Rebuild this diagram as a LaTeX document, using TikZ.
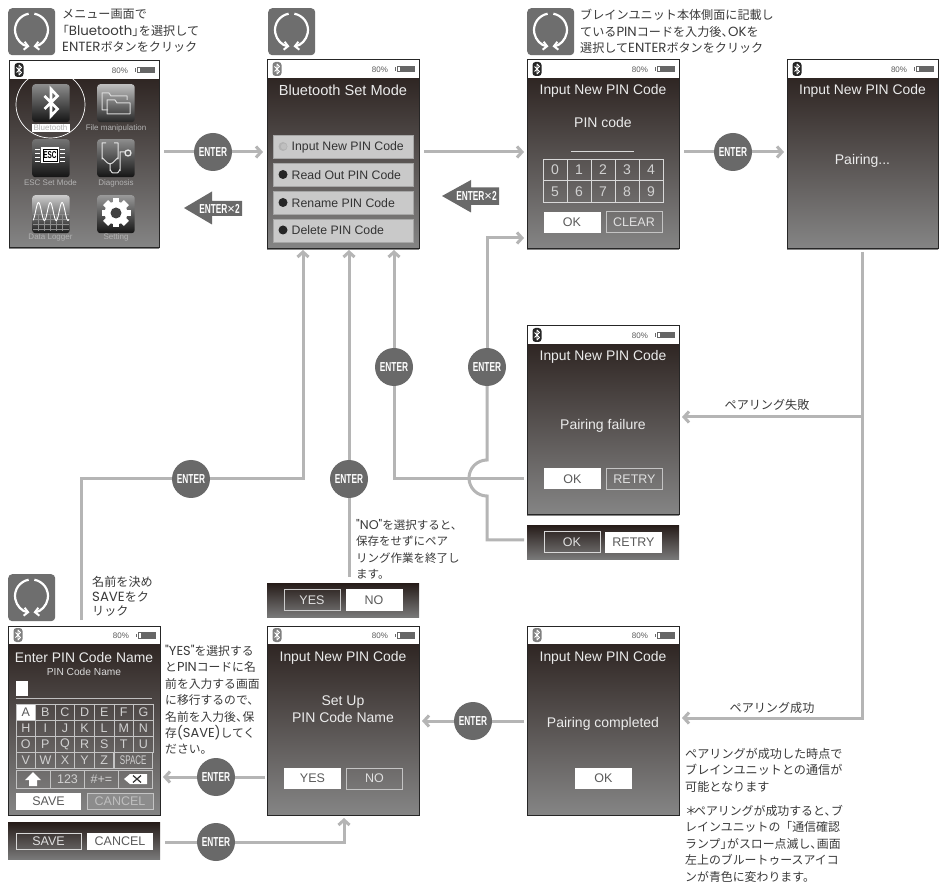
\documentclass[tikz,border=0pt]{standalone}
\usepackage{fontspec}
\setmainfont{Liberation Sans}
\newfontfamily\jpfont{Noto Sans CJK JP}
\newfontfamily\notelatin{Poppins}[Scale=1.1]
\newfontfamily\enterfont{Liberation Sans}[FakeStretch=0.64]
\newcommand{\Lp}[1]{{\notelatin #1}}
\newcommand{\ten}{、\kern-.45em}
\usetikzlibrary{arrows.meta}
\definecolor{scrtop}{HTML}{261C19}
\definecolor{scrbot}{HTML}{858585}
\definecolor{linegray}{HTML}{B5B5B5}
\definecolor{badge}{HTML}{696969}
\definecolor{notetext}{HTML}{3A3A3A}
\definecolor{btntext}{HTML}{5A5A5A}
\definecolor{lightline}{HTML}{C4C4C4}
\tikzset{
  x=1pt,y=-1pt,
  line/.style={draw=linegray,line width=3pt},
  conn/.style={line,-{Straight Barb[length=5pt,width=11pt,line width=3pt]}},
  enterc/.style={circle,fill=badge,minimum size=38pt,inner sep=0pt,text=white,font=\enterfont\bfseries\fontsize{13}{13}\selectfont},
  arrowtxt/.style={inner sep=0pt,text=white,font=\enterfont\bfseries\fontsize{13}{13}\selectfont},
  screenbox/.style={anchor=north west,inner sep=0pt,top color=scrtop,bottom color=scrbot},
  stripbox/.style={anchor=north west,inner sep=0pt,top color=scrtop,bottom color=scrbot!110!white},
  titletxt/.style={inner sep=0pt,text=white!92!black,font=\fontsize{13.9}{16}\selectfont},
  bodytxt/.style={inner sep=0pt,text=white!92!black,font=\fontsize{14}{16.5}\selectfont,align=center},
  btnw/.style={fill=white,inner sep=0pt,minimum width=57pt,minimum height=21pt,text=btntext,font=\fontsize{12.5}{14}\selectfont},
  btno/.style={draw=lightline,line width=1pt,inner sep=0pt,minimum width=56pt,minimum height=21pt,text=white!88!black,font=\fontsize{12.5}{14}\selectfont},
  menubtn/.style={anchor=north west,fill=black!21,draw=black!35,line width=.6pt,inner sep=0pt,minimum width=140pt,minimum height=23pt},
  menutxt/.style={anchor=west,inner sep=0pt,text=black!80,font=\fontsize{12.3}{14}\selectfont},
  tile/.style={anchor=north west,rounded corners=3pt,inner sep=0pt,minimum width=37.5pt,minimum height=38pt},
  tilelab/.style={inner sep=0pt,text=white!70!black,font=\fontsize{8}{9}\selectfont},
  notejp/.style={anchor=north west,inner sep=0pt,align=left,text=notetext,font=\jpfont\fontsize{12.1}{16.5}\selectfont},
  keycell/.style={draw=lightline,line width=.8pt,inner sep=0pt,minimum width=19.6pt,minimum height=16pt,text=white!82!black,font=\fontsize{12.5}{13}\selectfont},
  numcell/.style={draw=white!85!black,line width=.8pt,inner sep=0pt,minimum width=24pt,minimum height=21.5pt,text=white!82!black,font=\fontsize{14}{15}\selectfont},
}
% round-arrow icon: name, left, top
\newcommand{\CycleIcon}[3]{%
  \node[anchor=north west,fill=black!57,rounded corners=4pt,inner sep=0pt,minimum size=47pt] (#1) at (#2,#3) {};
  \begin{scope}[shift={(#2+23.5,#3+22)}]
    \draw[white,line width=2.2pt,-{Straight Barb[length=4pt,width=8pt,line width=2pt]}] (260:16.5) arc (260:97:16.5);
    \draw[white,line width=2.2pt,-{Straight Barb[length=4pt,width=8pt,line width=2pt]}] (-80:16.5) arc (-80:83:16.5);
  \end{scope}}
% screen: name, left, top, width, height, colour of the status icon
\newcommand{\ScreenBox}[6]{%
  \node[screenbox,minimum width=#4pt,minimum height=#5pt] (#1) at (#2,#3) {};
  \begin{scope}[shift={(#2,#3)}]
    \fill[white] (0,0) rectangle (#4,18);
    \draw[black!85,line width=1pt] (0,0) rectangle (#4,#5);
    \fill[#6,rounded corners=3pt] (5.5,2) rectangle (14.5,16);
    \draw[white,line width=.8pt,line join=round] (7.5,6.5) -- (12.5,11.5) -- (10,14) -- (10,4) -- (12.5,6.5) -- (7.5,11.5);
    \node[inner sep=0pt,text=black!65,font=\fontsize{8}{9}\selectfont] (#1-pct) at (#4-39,9.5) {80\%};
    \fill[black!60] (#4-22,6) rectangle (#4-4,12.5);
    \fill[white] (#4-21,7) rectangle (#4-19,11.5);
    \fill[black!60] (#4-24,7.5) rectangle (#4-23,11);
  \end{scope}}
\begin{document}
\begin{tikzpicture}
\useasboundingbox (0,0) rectangle (946,882);
\fill[white] (0,0) rectangle (946,882);

% cycle icons
\CycleIcon{ic1}{8}{8}
\CycleIcon{ic2}{268}{8}
\CycleIcon{ic3}{527}{8}
\CycleIcon{ic4}{8}{574}

% screens
\ScreenBox{s1}{9}{61}{150}{187}{black!85}
\ScreenBox{s2}{267}{60}{152}{189}{black!50}
\ScreenBox{s3}{527}{60}{152}{189}{black!85}
\ScreenBox{s4}{787}{60}{151}{189}{black!85}
\ScreenBox{s5}{527}{326}{152}{189}{black!85}
\ScreenBox{s6}{267}{626}{152}{189}{black!50}
\ScreenBox{s7}{527}{626}{152}{189}{black!50}
\ScreenBox{s8}{8}{626}{152}{189}{black!50}

% strips
\node[stripbox,minimum width=152pt,minimum height=34pt] (st1) at (527,525) {};
\node[stripbox,minimum width=152pt,minimum height=34pt] (st2) at (267,583) {};
\node[stripbox,minimum width=152pt,minimum height=37pt] (st3) at (8,822) {};

% menu tiles
\node[tile,top color=black!45,bottom color=black!92] (t1) at (32,84) {};
\node[tile,top color=black!25,bottom color=black!85] (t2) at (97,84) {};
\node[tile,top color=black!55,bottom color=black!92] (t3) at (32,139) {};
\node[tile,top color=black!45,bottom color=black!92] (t4) at (97,139) {};
\node[tile,top color=black!20,bottom color=black!90] (t5) at (32,195) {};
\node[tile,top color=black!40,bottom color=black!92] (t6) at (97,195) {};
% bluetooth glyph
\draw[white,line width=2.6pt,line join=miter] (44.5,96) -- (57.5,109) -- (51,116) -- (51,89) -- (57.5,96) -- (44.5,109);
% folders
\draw[white!85!black,line width=1pt,line join=round] (108,110) -- (102,110) -- (102,93) -- (109,93) -- (111,96) -- (127,96) -- (127,100);
\draw[white!85!black,line width=1pt,line join=round] (107,114) -- (107,100) -- (115,100) -- (117,103) -- (130,103) -- (130,114) -- cycle;
% ESC chip
\fill[white] (41,147) rectangle (59,163);
\draw[black,line width=.8pt] (43,149) rectangle (57,161);
\node[inner sep=0pt,text=black,font=\enterfont\bfseries\fontsize{10}{10}\selectfont] (esclabel) at (50,155) {ESC};
\foreach \yy in {149,153,157,161}{
  \draw[white,line width=.8pt] (35,\yy) -- (40,\yy);
  \draw[white,line width=.8pt] (60,\yy) -- (65,\yy);
}
% stethoscope
\draw[white!90!black,line width=1pt,line join=round] (106,143) -- (102,143) -- (102,159) to[out=90,in=180] (110,164) to[out=0,in=90] (118,159) -- (118,143) -- (114,143);
\draw[white!90!black,line width=1pt] (110,164) -- (110,170) to[out=90,in=180] (113,173) -- (117,173) to[out=0,in=90] (120,170) -- (120,152) -- (125,152);
\draw[white!90!black,line width=1.3pt] (128,153) circle[radius=3];
% data logger waves
\foreach \yy in {214,219,224,229}{\draw[black!45,line width=.3pt] (33,\yy) -- (69,\yy);}
\foreach \xx in {38,44,50,56,62}{\draw[black!45,line width=.3pt] (\xx,214) -- (\xx,231);}
\draw[white,line width=.9pt,domain=33:69,samples=70] plot ({\x},{211.5-9*cos((\x-38.5)*30.5)});
% gear
\begin{scope}[shift={(116,213)}]
  \foreach \a in {0,45,...,315}{\fill[white,rotate=\a] (-3.4,-14.5) rectangle (3.4,14.5);}
  \fill[white] (0,0) circle[radius=11.5];
  \fill[black!75] (0,0) circle[radius=5.5];
\end{scope}
% tile captions
\node[inner sep=0pt,fill=white,minimum width=38pt,minimum height=8pt,text=black!30,font=\fontsize{8}{9}\selectfont] (lab1) at (50.5,128) {Bluetooth};
\node[tilelab] (lab2) at (116,128) {File manipulation};
\node[tilelab] (lab3) at (50.5,183) {ESC Set Mode};
\node[tilelab] (lab4) at (116,183) {Diagnosis};
\node[tilelab] (lab5) at (50.5,237.5) {Data Logger};
\node[tilelab] (lab6) at (116,237.5) {Setting};
\draw[white,line width=.7pt] (50.5,104.5) ellipse[x radius=34.5,y radius=33.5];

% screen 2
\node[titletxt,font=\fontsize{14.6}{16}\selectfont] (s2t) at (343,90.5) {Bluetooth Set Mode};
\node[menubtn] (b1) at (273,135) {};
\node[menubtn] (b2) at (273,163) {};
\node[menubtn] (b3) at (273,191) {};
\node[menubtn] (b4) at (273,219) {};
\fill[black!30] (283,146.5) circle[radius=4.5];
\fill[white!75!black] (283.8,146.5) circle[radius=3];
\fill[black!85] (283,174.5) circle[radius=4.5];
\fill[black!85] (283,202.5) circle[radius=4.5];
\fill[black!85] (283,230) circle[radius=4.5];
\node[menutxt] (b1t) at (291.5,147) {Input New PIN Code};
\node[menutxt] (b2t) at (291.5,175) {Read Out PIN Code};
\node[menutxt] (b3t) at (291.5,203) {Rename PIN Code};
\node[menutxt] (b4t) at (291.5,230.5) {Delete PIN Code};

% screen 3
\node[titletxt] (s3t) at (603,91) {Input New PIN Code};
\node[bodytxt] (s3p) at (603,122.5) {PIN code};
\draw[white!85!black,line width=.8pt] (571,151) -- (634,151);
\foreach \t [count=\i from 0] in {0,1,2,3,4}{\node[numcell] (n\i) at ({555+24*\i},170) {\t};}
\foreach \t [count=\i from 5] in {5,6,7,8,9}{\node[numcell] (n\i) at ({555+24*(\i-5)},191.5) {\t};}
\node[btnw] (s3ok) at (572,222.5) {OK};
\node[btno] (s3cl) at (634,222.5) {CLEAR};

% screen 4
\node[titletxt] (s4t) at (862.5,91) {Input New PIN Code};
\node[bodytxt] (s4p) at (862.5,161) {Pairing...};

% screen 5
\node[titletxt] (s5t) at (603,357) {Input New PIN Code};
\node[bodytxt] (s5p) at (603,425.5) {Pairing failure};
\node[btnw] (s5ok) at (572.5,479) {OK};
\node[btno] (s5re) at (634.5,479) {RETRY};
\node[btno,draw=black!15] (st1ok) at (572,542.5) {OK};
\node[btnw] (st1re) at (633.5,542.5) {RETRY};

% set-up screen
\node[titletxt] (s6t) at (343,657.5) {Input New PIN Code};
\node[bodytxt] (s6p) at (343,709) {Set Up\\PIN Code Name};
\node[btnw] (s6y) at (312.5,778.5) {YES};
\node[btno] (s6n) at (374.5,778.5) {NO};
\node[btno,draw=white!80!black] (st2y) at (312,600) {YES};
\node[btnw] (st2n) at (374,600) {NO};

% completed screen
\node[titletxt] (s7t) at (603,657.5) {Input New PIN Code};
\node[bodytxt] (s7p) at (603,724) {Pairing completed};
\node[btnw] (s7ok) at (603.5,778.5) {OK};

% enter name screen
\node[titletxt] (s8t) at (84,657.5) {Enter PIN Code Name};
\node[inner sep=0pt,text=white!85!black,font=\fontsize{10.2}{11}\selectfont] (s8s) at (84,672) {PIN Code Name};
\fill[white] (16,681) rectangle (28,696);
\draw[white!75!black,line width=1pt] (16,698) -- (152,698);
\foreach \t [count=\i from 0] in {A,B,C,D,E,F,G}{
  \node[keycell] (ka\i) at ({25.8+19.6*\i},712) {\t};}
\node[keycell,fill=white,text=btntext] (kaA) at (25.8,712) {A};
\foreach \t [count=\i from 0] in {H,I,J,K,L,M,N}{
  \node[keycell] (kb\i) at ({25.8+19.6*\i},728) {\t};}
\foreach \t [count=\i from 0] in {O,P,Q,R,S,T,U}{
  \node[keycell] (kc\i) at ({25.8+19.6*\i},744) {\t};}
\foreach \t [count=\i from 0] in {V,W,X,Y,Z}{
  \node[keycell] (kd\i) at ({25.8+19.6*\i},760) {\t};}
\node[keycell,minimum width=39.2pt,font=\enterfont\fontsize{12.5}{13}\selectfont] (kdsp) at (133.2,760) {SPACE};
\node[keycell,minimum width=34pt,minimum height=18pt] (ke0) at (33,779) {};
\node[keycell,minimum width=34pt,minimum height=18pt] (ke1) at (67.5,779) {123};
\node[keycell,minimum width=34pt,minimum height=18pt] (ke2) at (101.5,779) {\#+=};
\node[keycell,minimum width=34pt,minimum height=18pt] (ke3) at (135.5,779) {};
\fill[white] (33,772) -- (41,780) -- (37,780) -- (37,786) -- (29,786) -- (29,780) -- (25,780) -- cycle;
\fill[white] (124,779) -- (130,774) -- (147,774) -- (147,784) -- (130,784) -- cycle;
\draw[black!80,line width=1.2pt] (133,775.5) -- (141,782.5) (141,775.5) -- (133,782.5);
\node[btnw,minimum width=65pt,minimum height=17pt] (s8sv) at (48.5,801) {SAVE};
\node[btno,minimum width=66pt,minimum height=16pt,text=white!75!black,fill=white!55!black] (s8cn) at (120,801) {CANCEL};
\node[btno,minimum width=65pt,minimum height=16pt,draw=white!85!black] (st3sv) at (48.5,841) {SAVE};
\node[btnw,minimum width=66pt,minimum height=17pt] (st3cn) at (120,841) {CANCEL};

% badges
\node[enterc] (e1) at (213,152) {ENTER};
\node[enterc] (e2) at (733,152) {ENTER};
\node[enterc] (e3) at (394,367) {ENTER};
\node[enterc] (e4) at (487,367) {ENTER};
\node[enterc] (e5) at (191,479) {ENTER};
\node[enterc] (e6) at (349,479) {ENTER};
\node[enterc] (e7) at (473,721) {ENTER};
\node[enterc] (e8) at (216,777) {ENTER};
\node[enterc] (e9) at (216,842) {ENTER};

% free ends of the connectors
\coordinate (a1) at (164,152); \coordinate (a2) at (263,152);
\coordinate (b1s) at (424,152); \coordinate (b1e) at (524,152);
\coordinate (c1) at (684,152); \coordinate (c2) at (784,152);
\coordinate (d1) at (862,252); \coordinate (d2) at (862,417); \coordinate (d3) at (682,417);
\coordinate (d4) at (862,718); \coordinate (d5) at (682,718);
\coordinate (f1) at (524,479); \coordinate (f2) at (394,479); \coordinate (f3) at (394,250);
\coordinate (g1) at (524,540); \coordinate (g2) at (487,540); \coordinate (g3) at (487,496);
\coordinate (g4) at (487,460); \coordinate (g5) at (487,238); \coordinate (g6) at (524,238);
\coordinate (h1) at (81,620); \coordinate (h2) at (81,479); \coordinate (h3) at (303,479); \coordinate (h4) at (303,250);
\coordinate (i1) at (349,577); \coordinate (i2) at (349,250);
\coordinate (j1) at (524,721); \coordinate (j2) at (422,721);
\coordinate (k1) at (265,777); \coordinate (k2) at (163,777);
\coordinate (l1) at (165,842); \coordinate (l2) at (344,842); \coordinate (l3) at (344,818);

% connectors
\draw[line] (a1) -- (e1); \draw[conn] (e1) -- (a2);
\draw[conn] (b1s) -- (b1e);
\draw[line] (c1) -- (e2); \draw[conn] (e2) -- (c2);
\draw[conn] (d1) -- (d2) -- (d3);
\draw[conn] (d2) -- (d4) -- (d5);
\draw[line] (f1) -- (f2) -- (e3); \draw[conn] (e3) -- (f3);
\draw[line] (g1) -- (g2) -- (g3) arc (90:270:18) -- (e4); \draw[conn] (e4) -- (g5) -- (g6);
\draw[line] (h1) -- (h2) -- (e5); \draw[conn] (e5) -- (h3) -- (h4);
\draw[line] (i1) -- (e6); \draw[conn] (e6) -- (i2);
\draw[line] (j1) -- (e7); \draw[conn] (e7) -- (j2);
\draw[line] (k1) -- (e8); \draw[conn] (e8) -- (k2);
\draw[line] (l1) -- (e9); \draw[conn] (e9) -- (l2) -- (l3);

% block arrows
\fill[badge] (184,208) -- (212,191.5) -- (212,201) -- (242,201) -- (242,216) -- (212,216) -- (212,224.5) -- cycle;
\node[arrowtxt] (ar1) at (219.5,208.5) {ENTER{\normalfont×}2};
\fill[badge] (442,196) -- (471,180) -- (471,187.5) -- (499,187.5) -- (499,205) -- (471,205) -- (471,212.5) -- cycle;
\node[arrowtxt] (ar2) at (476.5,196) {ENTER{\normalfont×}2};

% Japanese notes
\node[notejp] (n-a) at (62,9) {メニュー画面で\\\hspace*{-.45em}「\Lp{Bluetooth}」\kern-.45em を選択して\\\Lp{ENTER}ボタンをクリック};
\node[notejp] (n-b) at (580,9) {ブレインユニット本体側面に記載し\\ている\Lp{PIN}コードを入力後\ten\Lp{OK}を\\選択して\Lp{ENTER}ボタンをクリック};
\node[notejp,font=\jpfont\fontsize{12.1}{14.7}\selectfont] (n-c) at (92,576) {名前を決め\\\Lp{SAVE}をク\\リック};
\node[notejp,font=\jpfont\fontsize{11.8}{16.4}\selectfont] (n-d) at (165,645) {\Lp{"YES"}を選択する\\と\Lp{PIN}コードに名\\前を入力する画面\\に移行するので、\\名前を入力後\ten 保\\存\Lp{(SAVE)}してく\\ださい。};
\node[notejp,font=\jpfont\fontsize{11.5}{16.4}\selectfont] (n-e) at (356,519) {\Lp{"NO"}を選択すると、\\保存をせずにペア\\リング作業を終了し\\ます。};
\node[notejp] (n-f) at (685,748) {ペアリングが成功した時点で\\ブレインユニットとの通信が\\可能となります};
\node[notejp,font=\jpfont\fontsize{11.9}{16.4}\selectfont] (n-g) at (685,805) {＊\kern-.25em ペアリングが成功すると\ten ブ\\レインユニットの「通信確認\\ランプ」\kern-.45em がスロー点滅し\ten 画面\\左上のブルートゥースアイコ\\ンが青色に変わります。};
\node[inner sep=0pt,text=notetext,font=\jpfont\fontsize{12.1}{14}\selectfont] (n-h) at (767,405) {ペアリング失敗};
\node[inner sep=0pt,text=notetext,font=\jpfont\fontsize{12.1}{14}\selectfont] (n-i) at (772,708) {ペアリング成功};
\end{tikzpicture}
\end{document}
